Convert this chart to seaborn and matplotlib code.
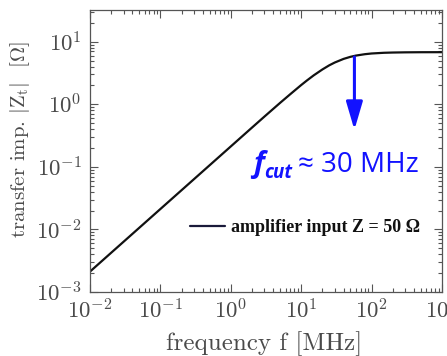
import numpy as np
import pandas as pd
import matplotlib
matplotlib.use("Agg")
import matplotlib.pyplot as plt
import matplotlib.ticker as mticker
import seaborn as sns

# ---- data ----
freq_mhz = [0.01, 0.1, 1, 2, 3, 5, 7, 10, 12, 15, 20, 25, 30, 40, 50, 60, 80,
            100, 150, 200, 300, 500, 1000]
z_ohm = [0.00212, 0.0212, 0.212, 0.424, 0.635, 1.05, 1.45, 2.03, 2.39, 2.89,
         3.60, 4.19, 4.65, 5.31, 5.73, 6.00, 6.31, 6.48, 6.65, 6.71, 6.76,
         6.79, 6.80]
series_label = "amplifier input Z = 50 Ω"
cut_freq = 57.0        # arrow position (MHz)
cut_top = 5.7          # arrow start (Ω)
cut_tip = 0.39         # arrow tip (Ω)
x_ticks = [1e-2, 1e-1, 1e0, 1e1, 1e2, 1e3]
y_ticks = [1e-3, 1e-2, 1e-1, 1e0, 1e1]

df = pd.DataFrame({"f": freq_mhz, "Z": z_ohm})

sns.set_theme(style="ticks")
plt.rcParams["mathtext.fontset"] = "cm"
plt.rcParams["font.family"] = ["DejaVu Sans"]

W, H = 447, 356
fig = plt.figure(figsize=(W / 100, H / 100), dpi=100)
ax = fig.add_axes([90 / W, 1 - 292 / H, 352 / W, 282 / H])
ax.set_xscale("log")
ax.set_yscale("log")

sns.lineplot(data=df, x="f", y="Z", ax=ax, color="#111111", lw=1.6,
             label=series_label)

ax.set_xlim(1e-2, 1e3)
ax.set_ylim(1e-3, 32.1)

grey = "#555555"
ax.set_xticks(x_ticks)
ax.set_yticks(y_ticks)
fmt = mticker.FuncFormatter(lambda v, p: r"$10^{%d}$" % int(round(np.log10(v))))
ax.xaxis.set_major_formatter(fmt)
ax.yaxis.set_major_formatter(fmt)
ax.xaxis.set_minor_locator(mticker.LogLocator(base=10, subs=np.arange(2, 10), numticks=20))
ax.yaxis.set_minor_locator(mticker.LogLocator(base=10, subs=np.arange(2, 10), numticks=20))
ax.xaxis.set_minor_formatter(mticker.NullFormatter())
ax.yaxis.set_minor_formatter(mticker.NullFormatter())
ax.tick_params(which="both", direction="in", top=True, right=True, color=grey,
               labelcolor="#4a4a4a", labelsize=16.5)
ax.tick_params(which="major", length=5.5, width=0.8)
ax.tick_params(which="minor", length=3, width=0.8)
ax.tick_params(axis="x", which="major", pad=5)
ax.tick_params(axis="y", which="major", pad=6)
for s in ax.spines.values():
    s.set_color(grey)
    s.set_linewidth(0.9)

ax.set_xlabel("frequency f [MHz]", family="cmr10", fontsize=18, color="#4a4a4a",
              va="top")
ax.xaxis.set_label_coords((264 - 90) / 352, (292 - 331) / 282)
ax.set_ylabel(r"transfer imp. $|\mathrm{Z}_\mathrm{t}|$  [$\Omega$]", family="cmr10",
              fontsize=15, color="#4a4a4a")
ax.yaxis.set_label_coords((32 - 90) / 352, (292 - 140) / 282)

leg = ax.legend(loc="center left", bbox_to_anchor=((190 - 90) / 352, (292 - 228) / 282),
                frameon=False, borderpad=0, borderaxespad=0, handlelength=1.95,
                handletextpad=0.3,
                prop={"family": "Liberation Serif", "weight": "bold", "size": 13})
for t in leg.get_texts():
    t.set_color("#111111")
leg.get_lines()[0].set_color("#1a1a3a")

blue = "#1212ff"
ax.annotate("", xy=(cut_freq, cut_tip), xytext=(cut_freq, cut_top),
            arrowprops=dict(arrowstyle="-|>,head_length=1.7,head_width=0.5",
                            color=blue, lw=2.2, shrinkA=0, shrinkB=0,
                            mutation_scale=10))

ff = ["Open Sans", "DejaVu Sans"]
fig.text(253 / W, 1 - 172 / H, "f", family=ff, weight="bold", style="italic",
         fontsize=21, color=blue, ha="left", va="baseline")
fig.text(264 / W, 1 - 178 / H, "cut", family=ff, weight="bold", style="italic",
         fontsize=13.5, color=blue, ha="left", va="baseline")
fig.text(298 / W, 1 - 172 / H, "≈ 30 MHz", family=ff, fontsize=20, color=blue,
         ha="left", va="baseline")

fig.savefig("out.png", dpi=100)
